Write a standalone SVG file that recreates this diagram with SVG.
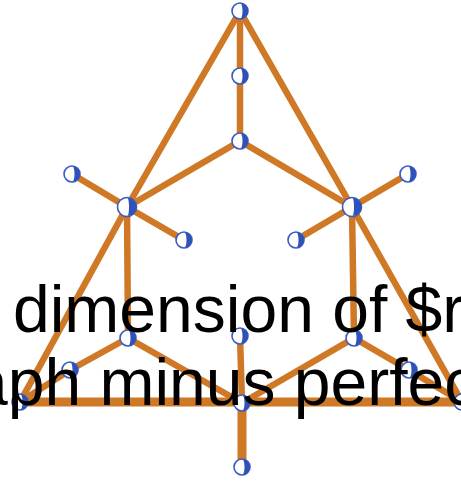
<svg xmlns="http://www.w3.org/2000/svg" width="461" height="482" viewBox="0 0 461 482">
<style>
.e{stroke:#cf7826;stroke-width:6.5;stroke-linecap:round;fill:none}
.t{stroke-width:9}
.nc{fill:#fff;stroke:#3a5bbf;stroke-width:1.6}
.nh{fill:#2f52b8}
.lbl{font-family:"Liberation Sans",Arial,sans-serif;font-size:66px;fill:#000}
</style>
<defs>
<g id="nd"><circle class="nc" r="8"/><path class="nh" d="M0.5,-7.5 A7.5,7.5 0 0 1 0.5,7.5 A2,7.5 0 0 0 0.5,-7.5Z"/></g>
<g id="nb"><circle class="nc" r="9.5"/><path class="nh" d="M0.5,-9 A9,9 0 0 1 0.5,9 A1.5,9 0 0 0 0.5,-9Z"/></g>
</defs>
<g id="connectors">
<line class="e" x1="240" y1="11" x2="127" y2="207"/>
<line class="e" x1="127" y1="207" x2="20" y2="402"/>
<line class="e" x1="240" y1="11" x2="352" y2="207"/>
<line class="e" x1="352" y1="207" x2="462" y2="402"/>
<line class="e" x1="240" y1="11" x2="240" y2="76"/>
<line class="e" x1="240" y1="76" x2="240" y2="141"/>
<line class="e" x1="240" y1="141" x2="127" y2="207"/>
<line class="e" x1="240" y1="141" x2="352" y2="207"/>
<line class="e" x1="127" y1="207" x2="72" y2="174"/>
<line class="e" x1="127" y1="207" x2="184" y2="240"/>
<line class="e" x1="352" y1="207" x2="408" y2="174"/>
<line class="e" x1="352" y1="207" x2="296" y2="240"/>
<line class="e" x1="127" y1="207" x2="128" y2="338"/>
<line class="e" x1="352" y1="207" x2="354" y2="338"/>
<line class="e" x1="128" y1="338" x2="70" y2="370"/>
<line class="e" x1="70" y1="370" x2="20" y2="402"/>
<line class="e" x1="128" y1="338" x2="242" y2="403"/>
<line class="e" x1="354" y1="338" x2="242" y2="403"/>
<line class="e" x1="354" y1="338" x2="409" y2="370"/>
<line class="e" x1="409" y1="370" x2="462" y2="402"/>
<line class="e t" x1="20" y1="402" x2="462" y2="402"/>
<line class="e" x1="240" y1="336" x2="242" y2="403"/>
<line class="e t" x1="242" y1="403" x2="242" y2="467"/>
</g>
<g id="n1"><use href="#nd" x="240" y="11"/></g>
<g id="n2"><use href="#nd" x="240" y="76"/></g>
<g id="n3"><use href="#nd" x="240" y="141"/></g>
<g id="n4"><use href="#nb" x="127" y="207"/></g>
<g id="n5"><use href="#nb" x="352" y="207"/></g>
<g id="n6"><use href="#nd" x="72" y="174"/></g>
<g id="n7"><use href="#nd" x="184" y="240"/></g>
<g id="n8"><use href="#nd" x="408" y="174"/></g>
<g id="n9"><use href="#nd" x="296" y="240"/></g>
<g id="n10"><use href="#nd" x="128" y="338"/></g>
<g id="n11"><use href="#nd" x="354" y="338"/></g>
<g id="n12"><use href="#nd" x="240" y="336"/></g>
<g id="n13"><use href="#nd" x="70" y="370"/></g>
<g id="n14"><use href="#nd" x="409" y="370"/></g>
<g id="n15"><use href="#nd" x="20" y="402"/></g>
<g id="n16"><use href="#nd" x="462" y="402"/></g>
<g id="n17"><use href="#nd" x="242" y="403"/></g>
<g id="n18"><use href="#nd" x="242" y="467"/></g>
<text class="lbl" x="13" y="332">dimension of $r</text>
<text class="lbl" x="-29" y="405">aph minus perfect</text>
</svg>
